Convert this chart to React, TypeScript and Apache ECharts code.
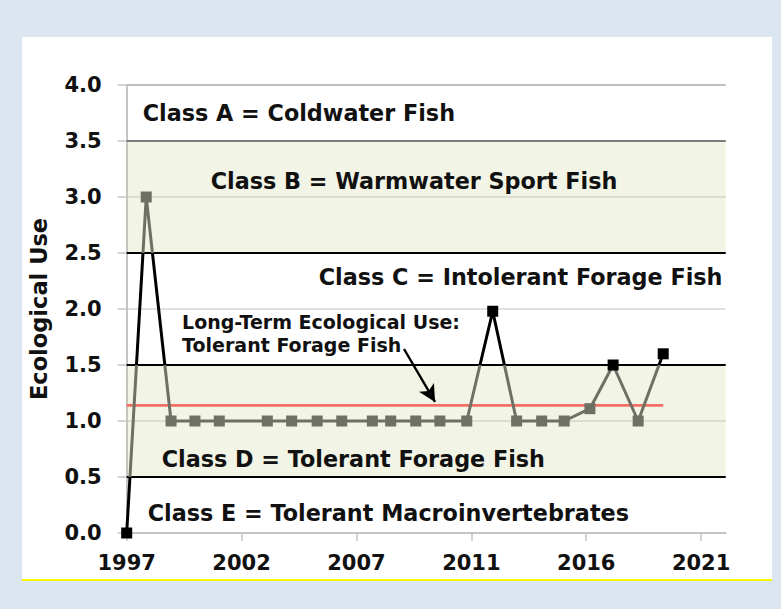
import React, { useEffect, useRef } from "react";
import * as echarts from "echarts";

// ---- data ----
const years = [
  1997.0, 1997.85, 1998.93, 1999.97, 2001.03, 2003.12, 2004.18, 2005.29, 2006.36,
  2007.69, 2008.49, 2009.58, 2010.63, 2011.8, 2012.93, 2013.97, 2015.06, 2016.04,
  2017.16, 2018.17, 2019.26, 2020.35,
];
const ecoUse = [
  0.0, 3.0, 1.0, 1.0, 1.0, 1.0, 1.0, 1.0, 1.0,
  1.0, 1.0, 1.0, 1.0, 1.0, 1.98, 1.0, 1.0, 1.0,
  1.11, 1.5, 1.0, 1.6,
];
const longTermMean = 1.14;
const bandBreaks = [0, 0.5, 1.5, 2.5, 3.5, 4.0];
const classNames = [
  "Class E = Tolerant Macroinvertebrates",
  "Class D = Tolerant Forage Fish",
  "Class C = Intolerant Forage Fish",
  "Class B = Warmwater Sport Fish",
  "Class A = Coldwater Fish",
];
const tickYears = [1997, 2002, 2007, 2012, 2017, 2022];
const tickLabels = ["1997", "2002", "2007", "2011", "2016", "2021"];
const annotationLines = ["Long-Term Ecological Use:", "Tolerant Forage Fish"];

const FONT = '"DejaVu Sans", "Liberation Sans", Arial, sans-serif';
const GRAY = "#6f7064";
const BLACK = "#000000";
const SHADE = "rgba(205,210,150,0.25)";

// label placement of each band's text (left distance, vertical offset)
const bandLabelPlacement = [
  { distance: 21, dy: 8 },
  { distance: 35, dy: 38 },
  { distance: 192, dy: -32 },
  { distance: 84, dy: -16 },
  { distance: 16, dy: 0 },
];
const shadedBands = [false, true, false, true, false];

export default function App() {
  const ref = useRef<HTMLDivElement>(null);

  useEffect(() => {
    if (!ref.current) return;
    const chart = echarts.init(ref.current, null, { renderer: "svg" });

    const seriesData = years.map((y, i) => [y, ecoUse[i]]);
    const xMin = tickYears[0];
    const xMax = 2023.07;

    const markAreaData = classNames.map((name, i) => [
      {
        name,
        yAxis: bandBreaks[i],
        itemStyle: { color: shadedBands[i] ? SHADE : "rgba(0,0,0,0)" },
        label: {
          show: true,
          position: "insideLeft",
          distance: bandLabelPlacement[i].distance,
          offset: [0, bandLabelPlacement[i].dy],
          formatter: "{b}",
          fontFamily: FONT,
          fontWeight: "bold",
          fontSize: 22.3,
          color: "#111",
        },
      },
      { yAxis: bandBreaks[i + 1] },
    ]);

    const boundaryLines = bandBreaks.slice(1, 5).map((v) => ({
      yAxis: v,
      lineStyle:
        v === 3.5
          ? { color: "#5a5a5a", width: 1.6, type: "solid" }
          : { color: BLACK, width: 2.2, type: "solid" },
    }));

    const option: any = {
      animation: false,
      backgroundColor: "transparent",
      grid: { left: 126.7, right: 55.3, top: 85, bottom: 76, containLabel: false },
      xAxis: {
        type: "value",
        min: xMin,
        max: xMax,
        axisLine: { show: true, onZero: true, lineStyle: { color: "#c4c4c4", width: 2 } },
        axisTick: { show: true, length: 8, customValues: tickYears, lineStyle: { color: "#c4c4c4", width: 1.5 } },
        axisLabel: {
          customValues: tickYears,
          margin: 19,
          fontFamily: FONT,
          fontWeight: "bold",
          fontSize: 21,
          color: "#111",
          formatter: (v: number) => {
            const idx = tickYears.findIndex((t) => Math.abs(t - v) < 0.01);
            return idx >= 0 ? tickLabels[idx] : "";
          },
        },
        splitLine: { show: false },
      },
      yAxis: {
        type: "value",
        min: 0,
        max: 4,
        interval: 0.5,
        name: "Ecological Use",
        nameLocation: "middle",
        nameGap: 76,
        nameRotate: 90,
        nameTextStyle: { fontFamily: FONT, fontWeight: "bold", fontSize: 22.5, color: "#111" },
        axisLine: { show: true, lineStyle: { color: "#c4c4c4", width: 2 } },
        axisTick: { show: true, length: 9, lineStyle: { color: "#c4c4c4", width: 1.5 } },
        axisLabel: {
          margin: 25,
          fontFamily: FONT,
          fontWeight: "bold",
          fontSize: 21,
          color: "#111",
          formatter: (v: number) => v.toFixed(1),
        },
        splitLine: {
          show: true,
          lineStyle: {
            color: ["#d6d6d6", "#d6d6d6", "#d6d6d6", "#d6d6d6", "#d6d6d6", "#d6d6d6", "#d6d6d6", "#d6d6d6", "#a8a8a8"],
            width: 1.5,
          },
        },
      },
      visualMap: {
        type: "piecewise",
        show: false,
        dimension: 1,
        seriesIndex: 0,
        pieces: [
          { lt: 0.5, color: BLACK },
          { gte: 0.5, lt: 1.5, color: GRAY },
          { gte: 1.5, lt: 2.5, color: BLACK },
          { gte: 2.5, lt: 3.5, color: GRAY },
          { gte: 3.5, color: BLACK },
        ],
      },
      series: [
        {
          name: "Ecological Use",
          type: "line",
          data: seriesData,
          symbol: "rect",
          symbolSize: 11,
          showSymbol: true,
          lineStyle: { width: 3 },
          z: 6,
          clip: false,
        },
        {
          name: "Long-Term Ecological Use",
          type: "line",
          data: [
            [xMin, longTermMean],
            [years[years.length - 1], longTermMean],
          ],
          symbol: "none",
          lineStyle: { color: "#f26f66", width: 2.8 },
          itemStyle: { color: "#f26f66" },
          z: 4,
          markArea: {
            silent: true,
            data: markAreaData,
          },
          markLine: {
            silent: true,
            symbol: ["none", "none"],
            label: { show: false },
            data: [
              ...boundaryLines,
              [
                { coord: [2009.07, 1.643], symbol: "none" },
                { coord: [2010.42, 1.17], symbol: "arrow", symbolSize: [13, 17] },
              ],
            ],
            lineStyle: { color: BLACK, width: 2.4, type: "solid" },
          },
        },
      ],
    };

    chart.setOption(option);

    const anchor = chart.convertToPixel({ gridIndex: 0 } as any, [1999.41, 1.783]) as number[];
    chart.setOption({
      graphic: [
        {
          type: "text",
          x: anchor[0],
          y: anchor[1],
          z: 20,
          style: {
            text: annotationLines.join("\n"),
            fontFamily: FONT,
            fontWeight: "bold",
            fontSize: 19,
            lineHeight: 23.5,
            fill: "#111",
            align: "left",
            verticalAlign: "middle",
          },
        },
      ],
    });

    return () => chart.dispose();
  }, []);

  return (
    <div style={{ position: "fixed", left: 0, top: 0, width: 781, height: 609, background: "#dce6f1" }}>
      <div
        style={{
          position: "absolute",
          left: 22,
          top: 37,
          width: 750,
          height: 542,
          background: "#ffffff",
          borderBottom: "2px solid #f7f700",
        }}
      />
      <div ref={ref} style={{ position: "absolute", left: 0, top: 0, width: 781, height: 609 }} />
    </div>
  );
}
